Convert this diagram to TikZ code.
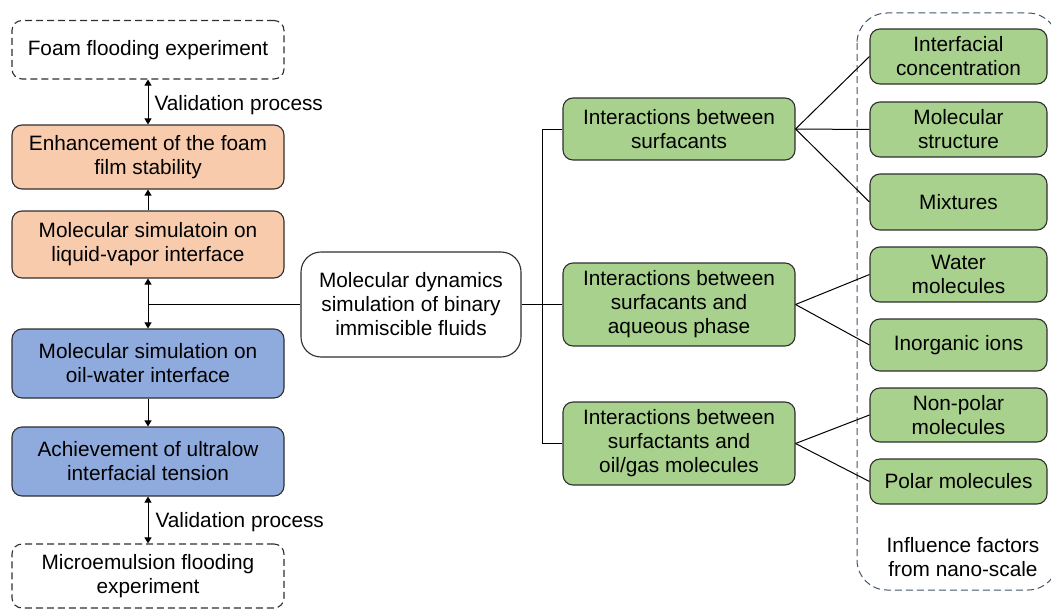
\documentclass[tikz,border=0pt]{standalone}
\usepackage{fontspec}
\setmainfont{Liberation Sans}
\usetikzlibrary{arrows.meta}
\definecolor{orangefill}{HTML}{F8CBAD}
\definecolor{bluefill}{HTML}{8FAADC}
\definecolor{greenfill}{HTML}{A9D18E}
\definecolor{edgegray}{HTML}{2F2F2F}
\definecolor{slate}{HTML}{44546A}
\begin{document}
\begin{tikzpicture}[x=1pt,y=-1pt,
  every node/.style={font=\fontsize{20.8}{24}\selectfont, inner sep=0pt, align=center},
  basebox/.style={draw=edgegray, line width=1.1pt, rounded corners=10pt},
  dashbox/.style={basebox, dashed, dash pattern=on 7pt off 4pt},
  orbox/.style={basebox, fill=orangefill},
  blbox/.style={basebox, fill=bluefill},
  grbox/.style={basebox, fill=greenfill},
  conn/.style={line width=1pt, draw=black},
  arr/.style={conn, -{Triangle[length=6pt,width=7pt]}},
  barr/.style={conn, {Triangle[length=6pt,width=7pt]}-{Triangle[length=6pt,width=7pt]}}
]
\useasboundingbox (0,0) rectangle (1051,610);
% outer dashed group
\draw[slate, line width=1pt, dash pattern=on 7pt off 4pt, rounded corners=30pt] (857,13) rectangle (1058,590);
\node (lab) at (963,557) {Influence factors\\from nano-scale};

% left column
\node[dashbox, minimum width=272pt, minimum height=58.5pt] (foam) at (148,49.75) {Foam flooding experiment};
\node[orbox, minimum width=272pt, minimum height=64pt] (enh) at (148,157) {Enhancement of the foam\\film stability};
\node[orbox, minimum width=272pt, minimum height=67pt] (lv) at (148,244.5) {Molecular simulatoin on\\liquid-vapor interface};
\node[blbox, minimum width=272pt, minimum height=69pt] (ow) at (148,363.5) {Molecular simulation on\\oil-water interface};
\node[blbox, minimum width=272pt, minimum height=69pt] (ach) at (148,461.5) {Achievement of ultralow\\interfacial tension};
\node[dashbox, minimum width=272pt, minimum height=64pt] (micro) at (148,576) {Microemulsion flooding\\experiment};

% center
\node[basebox, rounded corners=20pt, fill=white, minimum width=220pt, minimum height=105pt] (md) at (411,304.5) {Molecular dynamics\\simulation of binary\\immiscible fluids};

% green middle column
\node[grbox, minimum width=232pt, minimum height=62pt] (g1) at (679,129) {Interactions between\\surfacants};
\node[grbox, minimum width=232pt, minimum height=83pt] (g2) at (679,304.5) {Interactions between\\surfacants and\\aqueous phase};
\node[grbox, minimum width=232pt, minimum height=83pt] (g3) at (679,443.5) {Interactions between\\surfactants and\\oil/gas molecules};

% right column
\node[grbox, minimum width=177pt, minimum height=55pt] (r1) at (958.5,56.5) {Interfacial\\concentration};
\node[grbox, minimum width=177pt, minimum height=55pt] (r2) at (958.5,129.5) {Molecular\\structure};
\node[grbox, minimum width=177pt, minimum height=56pt] (r3) at (958.5,202) {Mixtures};
\node[grbox, minimum width=177pt, minimum height=55pt] (r4) at (958.5,274.5) {Water\\molecules};
\node[grbox, minimum width=177pt, minimum height=52pt] (r5) at (958.5,345) {Inorganic ions};
\node[grbox, minimum width=177pt, minimum height=54pt] (r6) at (958.5,415) {Non-polar\\molecules};
\node[grbox, minimum width=177pt, minimum height=45pt] (r7) at (958.5,481.5) {Polar molecules};

% left connectors
\draw[barr] (foam.south) -- node[right=6pt, anchor=west, yshift=-3pt] (v1) {Validation process} (enh.north);
\draw[arr] (lv.north) -- (enh.south);
\coordinate (junc) at (148,304.5);
\draw[conn] (md.west) -- (junc);
\draw[arr] (junc) -- (lv.south);
\draw[arr] (junc) -- (ow.north);
\draw[arr] (ow.south) -- (ach.north);
\draw[barr] (ach.south) -- node[right=7pt, anchor=west, yshift=-2pt] (v2) {Validation process} (micro.north);

% bracket
\coordinate (bt) at (542,129);
\coordinate (bb) at (542,443.5);
\draw[conn] (md.east) -- (g2.west);
\draw[conn] (g1.west) -- (bt) -- (bb) -- (g3.west);

% fans
\draw[conn] (g1.east) -- (r1.west);
\draw[conn] (g1.east) -- (r2.west);
\draw[conn] (g1.east) -- (r3.west);
\draw[conn] (g2.east) -- (r4.west);
\draw[conn] (g2.east) -- (r5.west);
\draw[conn] (g3.east) -- (r6.west);
\draw[conn] (g3.east) -- (r7.west);
\end{tikzpicture}
\end{document}
